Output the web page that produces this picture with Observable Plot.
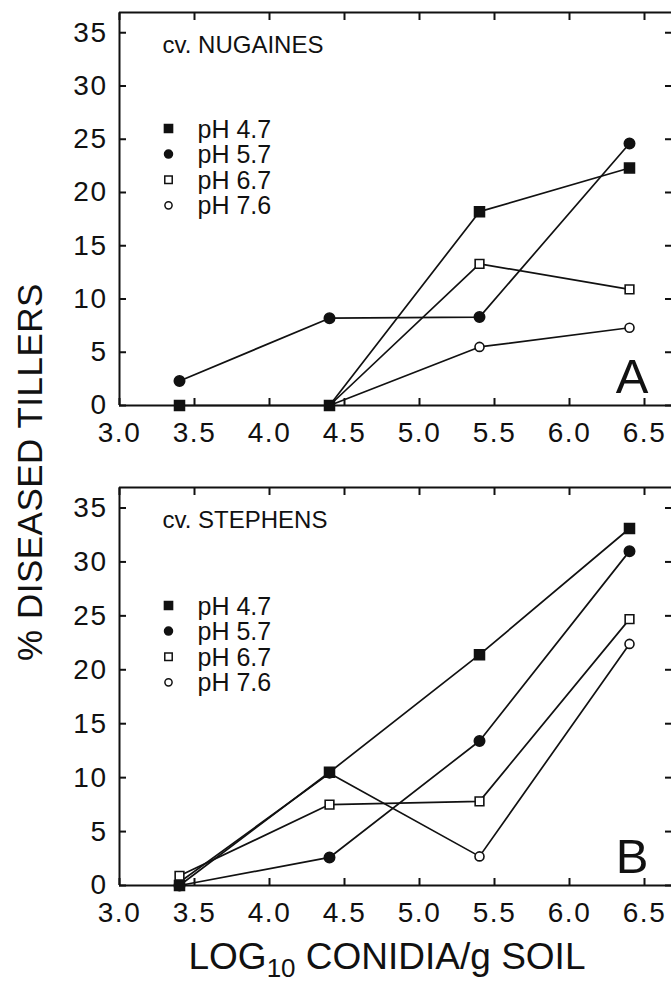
<!DOCTYPE html>
<html><head><meta charset="utf-8">
<script src="https://cdn.jsdelivr.net/npm/d3@7"></script>
<script src="https://cdn.jsdelivr.net/npm/@observablehq/plot@0.6"></script>
<style>
body{margin:0;background:#fff;}
#fig{position:relative;width:671px;height:985px;overflow:hidden;background:#fff;font-family:"Liberation Sans",Arial,sans-serif;color:#111;}
#panelA{position:absolute;left:0;top:0;}
#panelB{position:absolute;left:0;top:475px;}
#ylab{position:absolute;left:29px;top:472px;transform:translate(-50%,-50%) rotate(-90deg);font-size:35px;line-height:35px;white-space:nowrap;letter-spacing:0.5px;}
#xlab{position:absolute;left:387px;top:938px;transform:translateX(-50%);font-size:37px;line-height:37px;white-space:nowrap;}
#xlab sub{font-size:26px;vertical-align:-8px;line-height:0;}
g[aria-label="x-axis tick label"] text, g[aria-label="y-axis tick label"] text{letter-spacing:1.5px;}
</style></head>
<body>
<div id="fig">
  <div id="panelA"></div>
  <div id="panelB"></div>
  <div id="ylab">% DISEASED TILLERS</div>
  <div id="xlab">LOG<sub>10</sub> CONIDIA/g SOIL</div>
</div>
<script>
// ---- data ----
const xTicks = [3.0, 3.5, 4.0, 4.5, 5.0, 5.5, 6.0, 6.5];
const yTicks = [0, 5, 10, 15, 20, 25, 30, 35];
const conidia = [3.4, 4.4, 5.4, 6.4];
const seriesNames = ["pH 4.7", "pH 5.7", "pH 6.7", "pH 7.6"];

const nugainesPH47 = [0, 0, 18.2, 22.3];
const nugainesPH57 = [2.3, 8.2, 8.3, 24.6];
const nugainesPH67 = [null, 0, 13.3, 10.9];
const nugainesPH76 = [null, 0, 5.5, 7.3];

const stephensPH47 = [0, 10.5, 21.4, 33.1];
const stephensPH57 = [0, 2.6, 13.4, 31.0];
const stephensPH67 = [0.9, 7.5, 7.8, 24.7];
const stephensPH76 = [0.3, 10.4, 2.7, 22.4];

const cultivarA = "cv. NUGAINES";
const cultivarB = "cv. STEPHENS";
const letterA = "A";
const letterB = "B";

// ---- styles ----
const ink = "#111";
const symbolStyle = {
  "pH 4.7": {symbol: "square", fill: ink, r: 5.6, lr: 4.6},
  "pH 5.7": {symbol: "circle", fill: ink, r: 5.2, lr: 4.0},
  "pH 6.7": {symbol: "square", fill: "white", r: 4.9, lr: 4.2},
  "pH 7.6": {symbol: "circle", fill: "white", r: 4.5, lr: 3.6}
};
const xDomain = [3.0, 6.68];
const yDomain = [0, 36.9];
const fontFamily = "Liberation Sans, Arial, sans-serif";

function panel(seriesValues, title, letter, height, zeroY, order, legendDy) {
  const rows = [];
  seriesNames.forEach((s, i) => conidia.forEach((x, j) => {
    const v = seriesValues[i][j];
    if (v != null) rows.push({series: s, x, y: v});
  }));
  const axStroke = {stroke: ink, strokeWidth: 2};
  const marks = [
    Plot.ruleY([yDomain[0]], axStroke),
    Plot.ruleY([yDomain[1]], axStroke),
    Plot.ruleX([xDomain[0]], axStroke),
    Plot.axisX({anchor: "bottom", ticks: xTicks, tickSize: -7, tickFormat: () => "", strokeWidth: 2, label: null}),
    Plot.axisX({anchor: "top", ticks: xTicks, tickSize: -7, tickFormat: () => "", strokeWidth: 2, label: null}),
    Plot.axisY({anchor: "left", ticks: yTicks, tickSize: -7, tickFormat: () => "", strokeWidth: 2, label: null}),
    Plot.axisY({anchor: "right", ticks: yTicks, tickSize: -7, tickFormat: () => "", strokeWidth: 2, label: null}),
    Plot.axisX({anchor: "bottom", ticks: xTicks, tickSize: 0, tickPadding: 17, tickFormat: d3.format(".1f"), fontSize: 28, fill: ink, label: null}),
    Plot.axisY({anchor: "left", ticks: yTicks, tickSize: 0, tickPadding: 12, tickFormat: d3.format("d"), fontSize: 28, fill: ink, label: null}),
    Plot.line(rows, {x: "x", y: "y", z: "series", stroke: ink, strokeWidth: 1.7})
  ];
  order.forEach(s => {
    const st = symbolStyle[s];
    marks.push(Plot.dot(rows.filter(d => d.series === s), {x: "x", y: "y", symbol: st.symbol, r: st.r, fill: st.fill, stroke: ink, strokeWidth: 1.6}));
  });
  // legend
  marks.push(Plot.text([title], {text: d => d, frameAnchor: "top-left", dx: 43, dy: 33, textAnchor: "start", lineAnchor: "middle", fontSize: 24, fill: ink}));
  seriesNames.forEach((s, i) => {
    const st = symbolStyle[s];
    const dy = legendDy + i * 25.6;
    marks.push(Plot.dot([s], {frameAnchor: "top-left", dx: 49, dy, symbol: st.symbol, r: st.lr, fill: st.fill, stroke: ink, strokeWidth: 1.5}));
    marks.push(Plot.text([s], {text: d => d, frameAnchor: "top-left", dx: 78, dy: dy + 1, textAnchor: "start", lineAnchor: "middle", fontSize: 25, fill: ink}));
  });
  marks.push(Plot.text([letter], {text: d => d, frameAnchor: "bottom-right", dx: -23, dy: -13, textAnchor: "end", lineAnchor: "bottom", fontSize: 49, fill: ink}));

  return Plot.plot({
    width: 671,
    height,
    marginLeft: 119,
    marginRight: 0,
    marginTop: 12,
    marginBottom: height - zeroY,
    style: {fontFamily, background: "white", color: ink, overflow: "visible"},
    x: {domain: xDomain},
    y: {domain: yDomain},
    marks
  });
}

const chartA = panel([nugainesPH47, nugainesPH57, nugainesPH67, nugainesPH76], cultivarA, letterA, 470, 405,
  ["pH 6.7", "pH 7.6", "pH 5.7", "pH 4.7"], 116);
const chartB = panel([stephensPH47, stephensPH57, stephensPH67, stephensPH76], cultivarB, letterB, 470, 410,
  ["pH 5.7", "pH 7.6", "pH 4.7", "pH 6.7"], 118);
document.getElementById("panelA").appendChild(chartA);
document.getElementById("panelB").appendChild(chartB);
</script>
</body></html>
